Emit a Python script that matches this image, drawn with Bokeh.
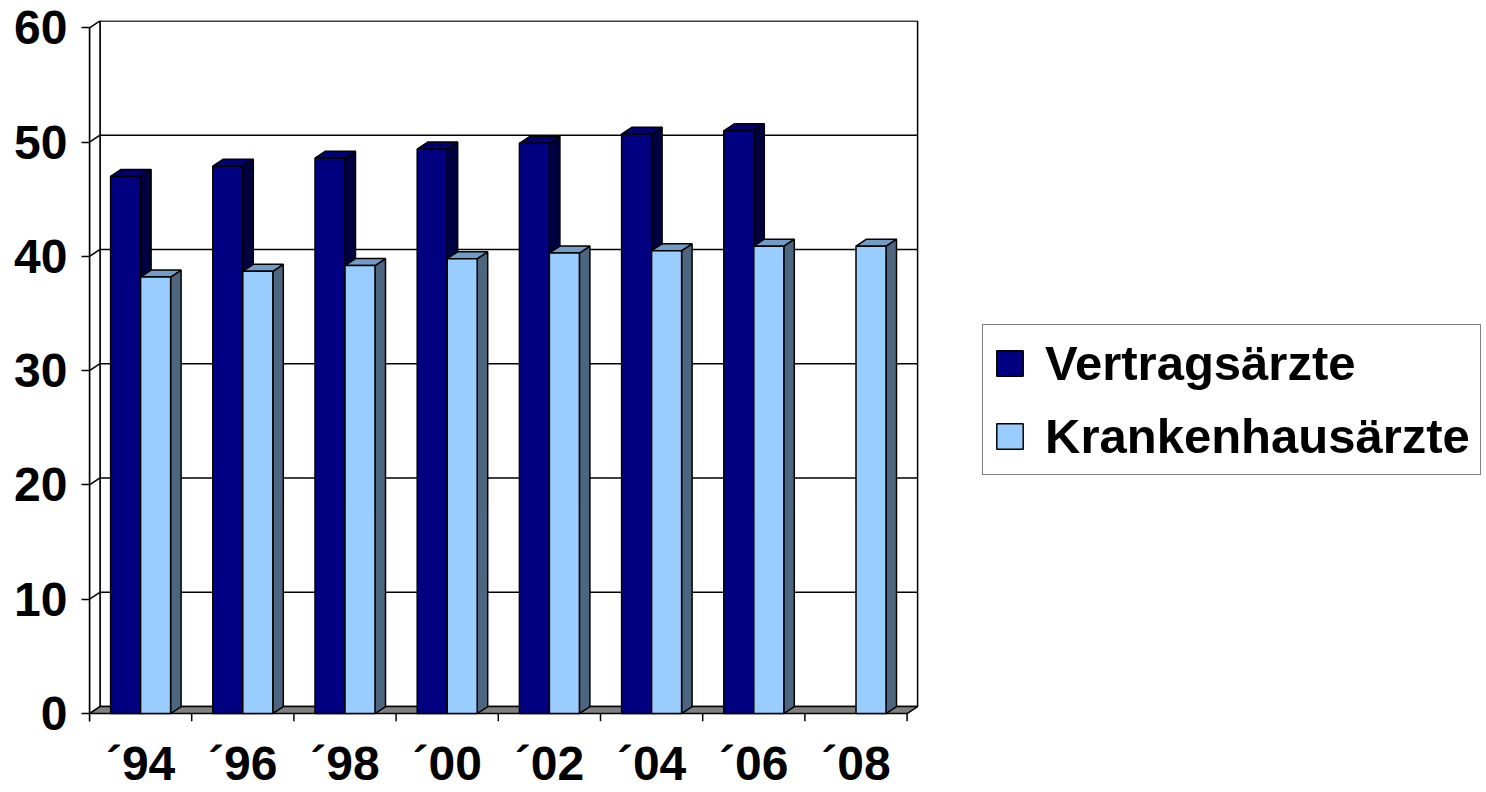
from bokeh.plotting import figure
from bokeh.models import Range1d, FixedTicker, Legend, LegendItem, ColumnDataSource
from bokeh.embed import file_html
from bokeh.resources import INLINE

# ---- data ----
years = ["´94", "´96", "´98", "´00", "´02", "´04", "´06", "´08"]
vertrag = [47.0, 47.9, 48.6, 49.4, 49.9, 50.7, 51.0, None]
kranken = [38.2, 38.7, 39.2, 39.8, 40.3, 40.5, 40.9, 40.9]
series_names = ["Vertragsärzte", "Krankenhausärzte"]
y_ticks = [0, 10, 20, 30, 40, 50, 60]

# ---- layout / style ----
W, H = 1486, 792
ML, MT, MB = 89, 20, 69
FW = W - ML
FH = H - MT - MB
CAT_PX = 102.2
y_lo, y_hi = -0.7, 60.65
VU = FH / (y_hi - y_lo)
DX = 10.5 / CAT_PX          # depth offset (x, data units)
DY = 7.0 / VU               # depth offset (y, data units)
BW = 30.0 / CAT_PX          # bar width
n = len(years)
ymax = y_ticks[-1]
FONT = "Liberation Sans"
LW = 1.5

front_cols = ["#000080", "#99CCFF"]
top_cols = ["#00006E", "#729CC6"]
side_cols = ["#000040", "#4D6680"]

p = figure(width=W, height=H, x_range=Range1d(0, FW / CAT_PX), y_range=Range1d(y_lo, y_hi),
           output_backend="svg", toolbar_location=None,
           min_border_left=ML, min_border_top=MT, min_border_bottom=MB, min_border_right=0)
p.xgrid.visible = False
p.ygrid.visible = False
p.outline_line_color = None
p.background_fill_color = "white"
p.border_fill_color = "white"

# back wall
p.quad(left=[DX], right=[n + DX], bottom=[DY], top=[ymax + DY],
       fill_color="white", line_color="black", line_width=LW)
# side wall
p.patch([0, 0, DX, DX], [0, ymax, ymax + DY, DY], fill_color="white", line_color="black", line_width=LW)
# gridlines
grid_vals = [v for v in y_ticks if 0 < v < ymax]
p.segment(x0=[0] * len(grid_vals), y0=grid_vals, x1=[DX] * len(grid_vals),
          y1=[v + DY for v in grid_vals], line_color="black", line_width=LW)
p.segment(x0=[DX] * len(grid_vals), y0=[v + DY for v in grid_vals], x1=[n + DX] * len(grid_vals),
          y1=[v + DY for v in grid_vals], line_color="black", line_width=LW)
# floor
p.patch([0, n, n + DX, DX], [0, 0, DY, DY], fill_color="#808080", line_color="black", line_width=LW)
# category boundary ticks
p.segment(x0=list(range(n + 1)), y0=[0] * (n + 1), x1=list(range(n + 1)), y1=[y_lo] * (n + 1),
          line_color="black", line_width=LW)

legend_items = []
for s, vals in enumerate([vertrag, kranken]):
    idx = [i for i in range(n) if vals[i] is not None]
    x0 = [i + 0.5 - BW + s * BW for i in idx]
    x1 = [a + BW for a in x0]
    v = [vals[i] for i in idx]
    # side faces
    p.patches(xs=[[b, b, b + DX, b + DX] for b in x1],
              ys=[[0, t, t + DY, DY] for t in v],
              fill_color=side_cols[s], line_color="black", line_width=LW)
    # top faces
    p.patches(xs=[[a, b, b + DX, a + DX] for a, b in zip(x0, x1)],
              ys=[[t, t, t + DY, t + DY] for t in v],
              fill_color=top_cols[s], line_color="black", line_width=LW)
    # front faces
    r = p.quad(source=ColumnDataSource(dict(left=x0, right=x1, bottom=[0] * len(v), top=v)),
               left="left", right="right", bottom="bottom", top="top",
               fill_color=front_cols[s], line_color="black", line_width=LW)
    legend_items.append(LegendItem(label=series_names[s], renderers=[r]))

# y axis
ya = p.yaxis[0]
ya.ticker = FixedTicker(ticks=y_ticks)
ya.bounds = (y_lo, ymax)
ya.axis_line_color = "black"
ya.axis_line_width = LW
ya.major_tick_line_width = LW
ya.major_tick_out = 8
ya.major_tick_in = 0
ya.minor_tick_line_color = None
ya.major_label_standoff = 14
ya.major_label_text_font = FONT
ya.major_label_text_font_style = "bold"
ya.major_label_text_font_size = "48px"
ya.major_label_text_color = "black"

# x axis
xa = p.xaxis[0]
centers = [i + 0.5 for i in range(n)]
xa.ticker = FixedTicker(ticks=centers)
xa.major_label_overrides = {c: y for c, y in zip(centers, years)}
xa.axis_line_color = None
xa.major_tick_line_color = None
xa.minor_tick_line_color = None
xa.major_label_standoff = 9
xa.major_label_text_font = FONT
xa.major_label_text_font_style = "bold"
xa.major_label_text_font_size = "48px"
xa.major_label_text_color = "black"

legend = Legend(items=legend_items, location=(893, 246), margin=0,
                padding=10, spacing=17, glyph_width=33, glyph_height=32, label_standoff=19,
                label_text_font=FONT, label_text_font_style="bold", label_text_font_size="49px",
                label_text_color="black",
                border_line_color="black", border_line_width=LW, background_fill_alpha=1.0)
p.add_layout(legend)

open("out.html", "w").write(file_html(p, INLINE))
